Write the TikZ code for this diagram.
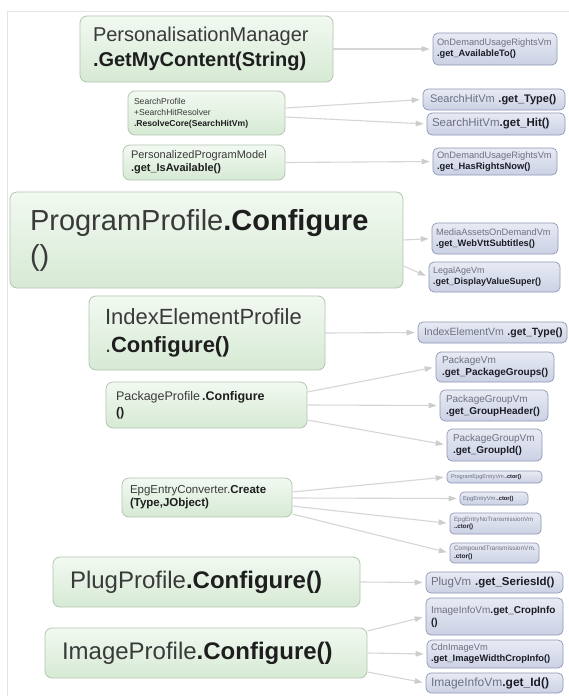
\documentclass[tikz,border=0pt]{standalone}
\usepackage{fontspec}
\setmainfont{Liberation Sans}
\usetikzlibrary{arrows.meta}
\hyphenpenalty=10000
\exhyphenpenalty=10000
\hbadness=10000
\hfuzz=200pt
\definecolor{ltop}{HTML}{F2F9F1}
\definecolor{lbot}{HTML}{D6EAD4}
\definecolor{lborder}{HTML}{B4C6B2}
\definecolor{ltext}{HTML}{3A3A3A}
\definecolor{lbold}{HTML}{1E1E1E}
\definecolor{rtop}{HTML}{E8EBF4}
\definecolor{rbot}{HTML}{CBD1E4}
\definecolor{rborder}{HTML}{8F98B6}
\definecolor{rtext}{HTML}{6E7082}
\definecolor{rbold}{HTML}{1C1C26}
\definecolor{connc}{HTML}{D6D6D6}
\definecolor{arrc}{HTML}{CDCDCD}
\definecolor{framec}{HTML}{E4E4E4}
\newcommand\lbf[1]{\textbf{\color{lbold}#1}}
\newcommand\mybf[1]{\textbf{\color{rbold}#1}}
\newcommand\fs[2]{\fontsize{#1}{#2}\selectfont}
\begin{document}
\begin{tikzpicture}[x=1pt,y=-1pt,
  lbox/.style={draw=lborder, line width=0.8pt, rounded corners=7pt, top color=ltop, bottom color=lbot,
    text=ltext, align=left, inner ysep=0pt, anchor=center},
  rbox/.style={draw=rborder, line width=0.7pt, rounded corners=5pt, top color=rtop, bottom color=rbot,
    text=rtext, align=left, inner ysep=0pt, anchor=center},
  conn/.style={draw=connc, line width=1.1pt, shorten >=3pt,
    -{Triangle[length=8pt,width=5.5pt,fill=arrc,color=arrc]}}
]
\useasboundingbox[fill=white] (0,0) rectangle (569,696);
\draw[framec, line width=0.8pt] (7,696) -- (7,11) -- (569,11);

% left nodes
\node[lbox, text width=227pt, inner xsep=13pt, minimum height=66pt, font=\fs{20}{25}] (pm) at (206.5,49)
  {PersonalisationManager\\\lbf{.GetMyContent(String)}};
\node[lbox, text width=145pt, inner xsep=6pt, minimum height=44pt, font=\fs{8.6}{11}] (sp) at (206.5,113)
  {SearchProfile\\+SearchHitResolver\\\lbf{.ResolveCore(SearchHitVm)}};
\node[lbox, text width=146pt, inner xsep=8pt, minimum height=35pt, font=\fs{11}{13}] (ppm) at (204,162.5)
  {PersonalizedProgramModel\\\lbf{.get\_IsAvailable()}};
\node[lbox, text width=353pt, inner xsep=20pt, minimum height=96pt, font=\fs{29}{35}] (pp) at (206.5,240)
  {ProgramProfile\lbf{.Configure}\\()};
\node[lbox, text width=204pt, inner xsep=16pt, minimum height=74pt, font=\fs{22}{28}] (iep) at (207,333)
  {IndexElementProfile\\.\lbf{Configure()}};
\node[lbox, text width=181pt, inner xsep=10pt, minimum height=46pt, font=\fs{12.5}{16}] (pkp) at (206.5,405)
  {PackageProfile\,\lbf{.Configure}\\\lbf{()}};
\node[lbox, text width=154pt, inner xsep=8pt, minimum height=39pt, font=\fs{11.5}{13}] (epg) at (207,497.5)
  {EpgEntryConverter.\lbf{Create}\\\lbf{(Type,JObject)}};
\node[lbox, text width=273pt, inner xsep=17pt, minimum height=50pt, font=\fs{24}{28}] (plug) at (206.5,582)
  {PlugProfile\lbf{.Configure()}};
\node[lbox, text width=288pt, inner xsep=17pt, minimum height=50pt, font=\fs{24}{29}] (img) at (206,653)
  {ImageProfile\lbf{.Configure()}};

% right nodes
\node[rbox, text width=116pt, inner xsep=4pt, minimum height=32pt, font=\fs{9.3}{11}] (r1) at (495,49)
  {OnDemandUsageRightsVm\\\mybf{.get\_AvailableTo()}};
\node[rbox, text width=128pt, inner xsep=7pt, minimum height=21pt, font=\fs{11}{13}] (r2) at (494,99.5)
  {\mbox{SearchHitVm \mybf{.get\_Type()}}};
\node[rbox, text width=128pt, inner xsep=5pt, minimum height=22pt, font=\fs{11.5}{13}] (r3) at (496,124)
  {SearchHitVm\mybf{.get\_Hit()}};
\node[rbox, text width=116pt, inner xsep=4pt, minimum height=27pt, font=\fs{9.3}{10.5}] (r4) at (495,161.5)
  {OnDemandUsageRightsVm\\\mybf{.get\_HasRightsNow()}};
\node[rbox, text width=118pt, inner xsep=4pt, minimum height=31pt, font=\fs{9.3}{11}] (r5) at (495,238.5)
  {MediaAssetsOnDemandVm\\\mybf{.get\_WebVttSubtitles()}};
\node[rbox, text width=123pt, inner xsep=4pt, minimum height=30pt, font=\fs{9}{11}] (r6) at (494.5,277)
  {LegalAgeVm\\\mybf{.get\_DisplayValueSuper()}};
\node[rbox, text width=137pt, inner xsep=6pt, minimum height=21pt, font=\fs{10.5}{12}] (r7) at (492.5,332.5)
  {\mbox{IndexElementVm \mybf{.get\_Type()}}};
\node[rbox, text width=106pt, inner xsep=6pt, minimum height=30pt, font=\fs{10}{12}] (r8) at (495,367)
  {PackageVm\\\mybf{.get\_PackageGroups()}};
\node[rbox, text width=96pt, inner xsep=6pt, minimum height=31pt, font=\fs{10}{12}] (r9) at (494,405.5)
  {PackageGroupVm\\\mybf{.get\_GroupHeader()}};
\node[rbox, text width=83pt, inner xsep=6pt, minimum height=32pt, font=\fs{10}{12.5}] (r10) at (494.5,445)
  {PackageGroupVm\\\mybf{.get\_GroupId()}};
\node[rbox, text width=87pt, inner xsep=4pt, minimum height=12pt, rounded corners=4pt, font=\fs{5.6}{7}] (r11) at (494.5,477)
  {ProgramEpgEntryVm.\mybf{.ctor()}};
\node[rbox, text width=62pt, inner xsep=3pt, minimum height=13pt, rounded corners=4pt, font=\fs{5.8}{7}] (r12) at (494,498.5)
  {EpgEntryVm.\mybf{.ctor()}};
\node[rbox, text width=83pt, inner xsep=4pt, minimum height=21pt, rounded corners=4pt, font=\fs{6.2}{7.5}] (r13) at (495.5,523.5)
  {EpgEntryNoTransmissionVm\\\mybf{..ctor()}};
\node[rbox, text width=81pt, inner xsep=4pt, minimum height=20pt, rounded corners=4pt, font=\fs{6.5}{7.5}] (r14) at (494.5,553)
  {CompoundTransmissionVm.\\\mybf{.ctor()}};
\node[rbox, text width=127pt, inner xsep=5pt, minimum height=21pt, font=\fs{11.5}{13}] (r15) at (494.5,582.5)
  {\mbox{PlugVm \mybf{.get\_SeriesId()}}};
\node[rbox, text width=127pt, inner xsep=5pt, minimum height=37pt, font=\fs{10}{12}] (r16) at (494.5,616.5)
  {ImageInfoVm\mybf{.get\_CropInfo}\\\mybf{()}};
\node[rbox, text width=128pt, inner xsep=4pt, minimum height=28pt, font=\fs{9.3}{11}] (r17) at (495,654)
  {CdnImageVm\\\mybf{.get\_ImageWidthCropInfo()}};
\node[rbox, text width=127pt, inner xsep=5pt, minimum height=20pt, font=\fs{12}{14}] (r18) at (494.5,683)
  {ImageInfoVm\mybf{.get\_Id()}};

% connectors
\draw[conn] (pm.east) -- (r1.west);
\draw[conn] ([yshift=5pt]sp.east) -- (r2.west);
\draw[conn] ([yshift=-4pt]sp.east) -- (r3.west);
\draw[conn] (ppm.east) -- (r4.west);
\draw[conn] (pp.east) -- (r5.west);
\draw[conn] ([yshift=-26pt]pp.east) -- (r6.west);
\draw[conn] (iep.east) -- (r7.west);
\draw[conn] ([yshift=13pt]pkp.east) -- (r8.west);
\draw[conn] (pkp.east) -- (r9.west);
\draw[conn] ([yshift=-15pt]pkp.east) -- (r10.west);
\draw[conn] ([yshift=5.5pt]epg.east) -- (r11.west);
\draw[conn] ([yshift=-0.5pt]epg.east) -- (r12.west);
\draw[conn] ([yshift=-8.5pt]epg.east) -- (r13.west);
\draw[conn] ([yshift=-16.5pt]epg.east) -- (r14.west);
\draw[conn] (plug.east) -- (r15.west);
\draw[conn] ([yshift=22pt]img.east) -- (r16.west);
\draw[conn] (img.east) -- (r17.west);
\draw[conn] ([yshift=-19pt]img.east) -- (r18.west);
\end{tikzpicture}
\end{document}
